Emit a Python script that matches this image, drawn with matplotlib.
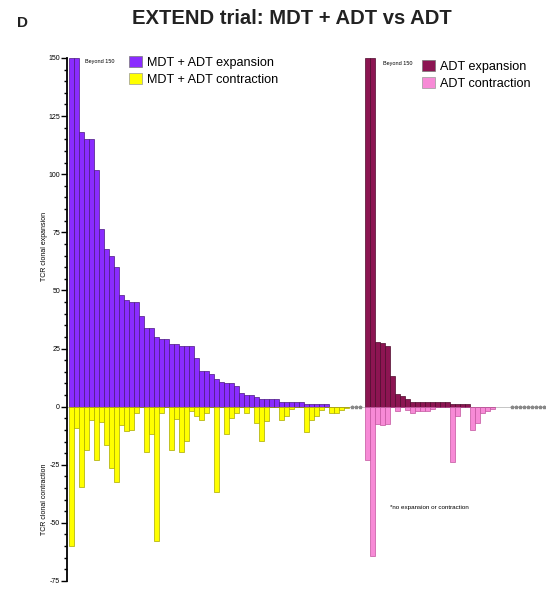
import numpy as np
import matplotlib.pyplot as plt
from matplotlib.patches import Patch

plt.rcParams['font.family'] = ['Liberation Sans', 'DejaVu Sans']

# TCR clonal expansion / contraction per patient, MDT + ADT arm (sorted by expansion)
mdt_exp = [150, 150, 118, 115, 115, 102, 76.5, 68, 65, 60, 48, 46, 45, 45, 39, 34, 34, 30, 29, 29,
           27, 27, 26, 26, 26, 21, 15.5, 15.5, 14, 12, 10.7, 10, 10, 9, 6, 5, 5, 4.3, 3.4, 3.4,
           3.4, 3.4, 2.2, 2.2, 2.2, 2.2, 2.2, 1.3, 1.3, 1.3, 1.3, 1.3, 0, 0, 0, 0]
mdt_con = [-60, -9, -34.7, -18.8, -5.9, -22.8, -6.7, -16.6, -26.3, -32.5, -7.7, -10.6, -9.9, -2.7, 0,
           -19.6, -11.7, -57.9, -2.7, 0, -18.8, -5.2, -19.6, -14.9, -2, -4.2, -5.9, -2.7, 0, -36.7,
           0, -11.7, -4.9, -2.7, 0, -2.7, 0, -7, -14.9, -6.2, 0, 0, -5.9, -4.2, -1, 0, 0, -10.9,
           -5.9, -4.2, -1.4, 0, -2.7, -2.7, -1.4, -0.6]
mdt_none = 3

# ADT arm
adt_exp = [150, 150, 28, 27.4, 26.2, 13.3, 5.4, 4.7, 3.3, 1.9, 1.9, 1.9, 1.9, 1.9, 1.9, 1.9, 1.9,
           1.1, 1.1, 1.1, 1.1, 0, 0, 0, 0, 0]
adt_con = [-22.8, -64.3, -7.5, -8, -7.5, 0, -2, 0, -1.4, -2.7, -2, -2, -2, -1, 0, 0, 0, -23.9,
           -4.2, 0, 0, -9.9, -7, -2.7, -2, -1]
adt_none = 10

x_mdt = np.arange(len(mdt_exp))
x_none1 = len(mdt_exp) + 0.1 + 0.8 * np.arange(mdt_none)
x_adt = len(mdt_exp) + 3.3 + np.arange(len(adt_exp))
x_none2 = x_adt[-1] + 3.8 + 0.8 * np.arange(adt_none)

fig = plt.figure(figsize=(5.46, 5.90), dpi=100)
ax = fig.add_axes([0.1227, 0.0153, 0.8773, 0.8864])

ax.axhline(0, color='#bbbbbb', lw=0.6, zorder=0)
ax.bar(x_mdt, mdt_exp, 1.0, color='#8a2cff', edgecolor='#4a1880', lw=0.5)
ax.bar(x_mdt, mdt_con, 1.0, color='#ffff00', edgecolor='#a8a800', lw=0.5)
ax.bar(x_adt, adt_exp, 1.0, color='#8c1552', edgecolor='#4e0a2c', lw=0.5)
ax.bar(x_adt, adt_con, 1.0, color='#f78ad6', edgecolor='#c2559f', lw=0.5)
ax.plot(x_none1, np.zeros(mdt_none), ls='none', marker='*', ms=2.5, color='#888888')
ax.plot(x_none2, np.zeros(adt_none), ls='none', marker='*', ms=2.5, color='#888888')

ax.set_xlim(-0.9, 95)
ax.set_ylim(-75, 150)
ax.set_yticks([150, 125, 100, 75, 50, 25, 0, -25, -50, -75])
ax.set_yticklabels(['150', '125', '100', '75', '50', '25', '0', '-25', '-50', '-75'])
ax.set_yticks(np.arange(-75, 151, 5), minor=True)
ax.tick_params(axis='y', which='major', labelsize=5, length=4, width=1, pad=1)
ax.tick_params(axis='y', which='minor', length=2.5, width=1)
ax.set_xticks([])
for s in ['top', 'right', 'bottom']:
    ax.spines[s].set_visible(False)
ax.spines['left'].set_linewidth(1.3)

ax.text(-0.048, 69, 'TCR clonal expansion', transform=ax.get_yaxis_transform(),
        rotation=90, ha='center', va='center', fontsize=5)
ax.text(-0.048, -40, 'TCR clonal contraction', transform=ax.get_yaxis_transform(),
        rotation=90, ha='center', va='center', fontsize=5)

ax.text(2.7, 148.5, 'Beyond 150', fontsize=4, va='center')
ax.text(62.3, 147.5, 'Beyond 150', fontsize=4, va='center')
ax.text(63.7, -43.4, '*no expansion or contraction', fontsize=4.5, va='center')

leg1 = fig.legend(handles=[Patch(facecolor='#8a2cff', edgecolor='#777777', lw=0.5),
                           Patch(facecolor='#ffff00', edgecolor='#999999', lw=0.5)],
                  labels=['MDT + ADT expansion', 'MDT + ADT contraction'],
                  loc='upper left', bbox_to_anchor=(129 / 546, 1 - 56 / 590), frameon=False,
                  fontsize=9.1, handlelength=1.0, handleheight=1.0, handletextpad=0.4,
                  labelspacing=0.3, borderpad=0, borderaxespad=0)
leg2 = fig.legend(handles=[Patch(facecolor='#8c1552', edgecolor='#777777', lw=0.5),
                           Patch(facecolor='#f78ad6', edgecolor='#999999', lw=0.5)],
                  labels=['ADT expansion', 'ADT contraction'],
                  loc='upper left', bbox_to_anchor=(422 / 546, 1 - 60 / 590), frameon=False,
                  fontsize=9.1, handlelength=1.0, handleheight=1.0, handletextpad=0.4,
                  labelspacing=0.3, borderpad=0, borderaxespad=0)

fig.text(292 / 546, 1 - 19 / 590, 'EXTEND trial: MDT + ADT vs ADT', ha='center', va='center',
         fontsize=14.6, fontweight='bold', color='#222222')
fig.text(17 / 546, 1 - 23 / 590, 'D', ha='left', va='center', fontsize=11,
         fontweight='bold', color='#222222')

fig.savefig('out.png', dpi=100)
